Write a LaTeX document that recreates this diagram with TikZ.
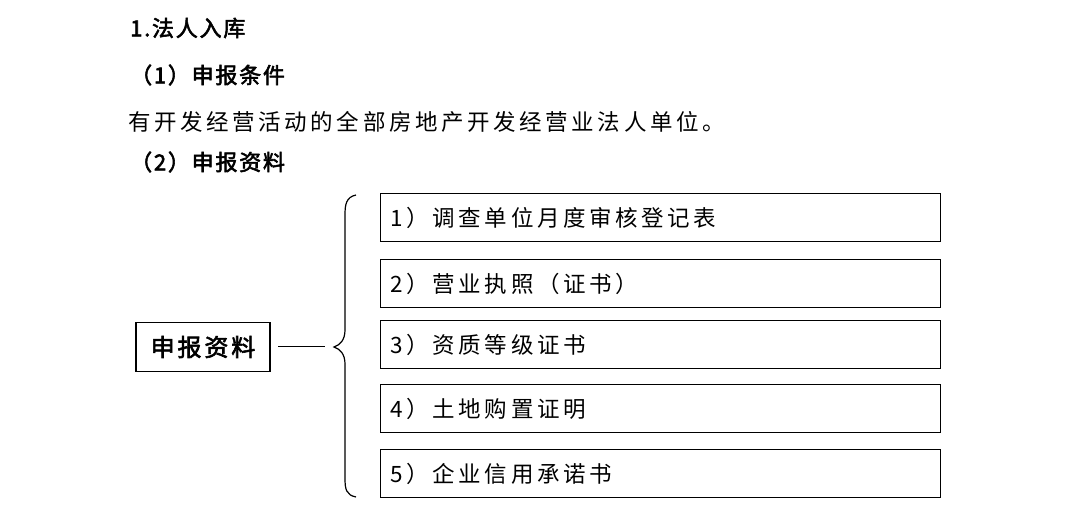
\documentclass[tikz,border=0pt]{standalone}
\usepackage{fontspec}
\newfontfamily\cjk{Noto Sans CJK SC}[LetterSpace=16]
\newfontfamily\cjkb{Noto Sans CJK SC}[FakeBold=2.5,LetterSpace=8]
\newfontfamily\cjkm{Noto Sans CJK SC}[FakeBold=2.5,LetterSpace=12]
\begin{document}
\begin{tikzpicture}[x=1pt,y=-1pt,
  item/.style={draw,line width=1.2pt,minimum width=560pt,minimum height=48pt,anchor=north west,inner sep=0pt,text width=540pt,align=left,font=\cjk\fontsize{22.5}{24}\selectfont},
  head/.style={anchor=west,inner sep=0pt,font=\cjkb\fontsize{22}{24}\selectfont}]
\useasboundingbox (0,0) rectangle (1080,518);
\node[head] (h1) at (130,28) {1.法人入库};
\node[head] (h2) at (130,75) {（1）申报条件};
\node[anchor=west,inner sep=0pt,font=\cjk\fontsize{22.5}{24}\selectfont] (t1) at (128,122) {有开发经营活动的全部房地产开发经营业法人单位。};
\node[head] (h3) at (130,162) {（2）申报资料};
\node[draw,line width=1.2pt,minimum width=134pt,minimum height=49pt,inner sep=0pt,font=\cjkm\fontsize{24}{26}\selectfont] (m) at (203,347) {申报资料};
\coordinate (l1) at (278,347);
\coordinate (l2) at (325,347);
\draw[line width=1pt] (l1) -- (l2);
\draw[line width=1.2pt] (356,195) .. controls (346,197) and (345,205) .. (345,215) -- (345,330) .. controls (345,340) and (340,345) .. (334,347) .. controls (340,349) and (345,354) .. (345,364) -- (345,478) .. controls (345,489) and (346,495) .. (356,497);
\node[item] (b1) at (380,193) {1）调查单位月度审核登记表};
\node[item] (b2) at (380,259) {2）营业执照（证书）};
\node[item] (b3) at (380,320) {3）资质等级证书};
\node[item] (b4) at (380,384) {4）土地购置证明};
\node[item] (b5) at (380,449) {5）企业信用承诺书};
\end{tikzpicture}
\end{document}
